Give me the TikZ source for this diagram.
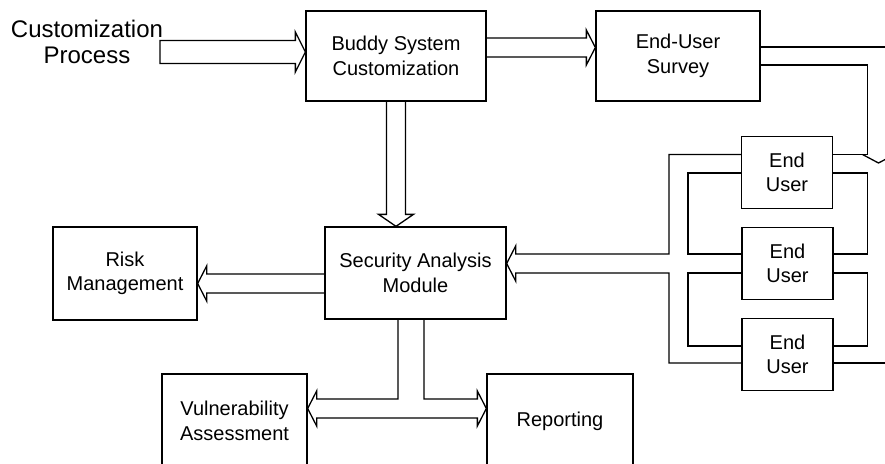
\documentclass[tikz,border=0pt]{standalone}
\usepackage{fontspec}
\setmainfont{Liberation Sans}
\usetikzlibrary{calc, positioning}

\newcommand{\diagfont}{\fontsize{20}{24.5}\selectfont}

\begin{document}
\begin{tikzpicture}[x=1pt, y=-1pt,
modbox/.style={rectangle, draw=black, line width=1.3pt,
  align=center, inner sep=0pt, font=\diagfont},
pipe/.style={line width=1.3pt, line join=miter}]

\useasboundingbox (0,0) rectangle (885,463);
\clip (0,0) rectangle (885,463);

\node[align=center, font=\fontsize{24}{26}\selectfont]
(process) at (87,42)
{Customization\\Process};

\node[modbox, minimum width=180pt, minimum height=90pt]
(buddy) at (396,56)
{Buddy System\\Customization};

\node[modbox, minimum width=164pt, minimum height=90pt]
(survey) at (678,56)
{End-User\\Survey};

\node[modbox, minimum width=181pt, minimum height=92pt]
(security) at (415.5,273)
{Security Analysis\\Module};

\node[modbox, minimum width=144pt, minimum height=93pt]
(risk) at (125,273.5)
{Risk\\Management};

\node[modbox, minimum width=145pt, minimum height=94pt]
(vuln) at (234.5,421)
{Vulnerability\\Assessment};

\node[modbox, minimum width=146pt, minimum height=94pt]
(report) at (560,421)
{Reporting};

\node[modbox, minimum width=91pt, minimum height=72pt]
(eu1) at (787,172.5)
{End\\User};

\node[modbox, minimum width=91pt, minimum height=72pt]
(eu2) at (787.5,263.5)
{End\\User};

\node[modbox, minimum width=91pt, minimum height=72pt]
(eu3) at (787.5,354.5)
{End\\User};

% columns of the pipes beside the end users
\coordinate (colA) at (669,0);
\coordinate (colB) at (688,0);
\coordinate (colC) at (867.5,0);

% arrow tips
\coordinate (cpin) at (160,52);
\coordinate (btip) at ($(buddy.west)+(0,-4)$);
\coordinate (stip) at ($(survey.west)+(0,-8.5)$);
\coordinate (mtip) at (buddy.south |- security.north);
\coordinate (rktip) at ($(risk.east)+(0,10)$);
\coordinate (satip) at ($(security.east)+(0,-9.5)$);
\coordinate (vtip) at ($(vuln.east)+(0,-12.5)$);
\coordinate (rptip) at ($(report.west)+(0,-12.5)$);

% customization process -> buddy system
\draw[pipe] ($(cpin)+(0,-11.5)$) -- ($(btip)+(-10,-11.5)$)
  -- ($(btip)+(-10,-20)$) -- (btip) -- ($(btip)+(-10,20)$)
  -- ($(btip)+(-10,11.5)$) -- ($(cpin)+(0,11.5)$) -- cycle;

% buddy system -> survey
\draw[pipe] ($(buddy.east |- stip)+(0,-9.5)$) -- ($(stip)+(-9,-9.5)$)
  -- ($(stip)+(-9,-17.5)$) -- (stip) -- ($(stip)+(-9,17.5)$)
  -- ($(stip)+(-9,9.5)$) -- ($(buddy.east |- stip)+(0,9.5)$);

% buddy system -> security module
\draw[pipe] ($(buddy.south)+(-9.5,0)$) -- ($(mtip)+(-9.5,-12)$)
  -- ($(mtip)+(-17.5,-12)$) -- (mtip) -- ($(mtip)+(17.5,-12)$)
  -- ($(mtip)+(9.5,-12)$) -- ($(buddy.south)+(9.5,0)$);

% security module -> risk
\draw[pipe] ($(security.west |- rktip)+(0,-9.5)$) -- ($(rktip)+(9,-9.5)$)
  -- ($(rktip)+(9,-17.5)$) -- (rktip) -- ($(rktip)+(9,17.5)$)
  -- ($(rktip)+(9,9.5)$) -- ($(security.west |- rktip)+(0,9.5)$);

% security module -> vulnerability / reporting
\draw[pipe] ($(security.south)+(-17.5,0)$) |- ($(vtip)+(9,-9.5)$)
  -- ($(vtip)+(9,-17.5)$) -- (vtip) -- ($(vtip)+(9,17.5)$)
  -- ($(vtip)+(9,9.5)$) -- ($(rptip)+(-9,9.5)$)
  -- ($(rptip)+(-9,17.5)$) -- (rptip) -- ($(rptip)+(-9,-17.5)$)
  -- ($(rptip)+(-9,-9.5)$) -| ($(security.south)+(8.5,0)$);

% end users -> security module
\draw[pipe] ($(eu1.west)+(0,-18)$) -| ($(colA |- eu2.west)+(0,-9.5)$)
  -- ($(satip)+(9,-9.5)$) -- ($(satip)+(9,-17.5)$) -- (satip)
  -- ($(satip)+(9,17.5)$) -- ($(satip)+(9,9.5)$)
  -- ($(colA |- eu2.west)+(0,9.5)$) |- ($(eu3.west)+(0,8.5)$);
\draw[pipe] ($(eu1.west)+(0,0.5)$) -| ($(colB |- eu2.west)+(0,-9.5)$)
  -- ($(eu2.west)+(0,-9.5)$);
\draw[pipe] ($(eu2.west)+(0,9.5)$) -| ($(colB |- eu3.west)+(0,-8.5)$)
  -- ($(eu3.west)+(0,-8.5)$);

% survey -> end users
\draw[pipe] ($(survey.east)+(0,-9)$) -- ($(survey.east)+(140,-9)$);
\draw[pipe] ($(survey.east)+(0,9)$) -| ($(colC |- eu1.east)+(0,-18)$)
  -- ($(eu1.east)+(0,-18)$);
\draw[pipe] ($(colC |- eu1.east)+(-5,-18)$) -- ++(16,8.5) -- ++(16,-8.5);
\draw[pipe] ($(eu1.east)+(0,0.5)$) -| ($(colC |- eu2.east)+(0,-9.5)$)
  -- ($(eu2.east)+(0,-9.5)$);
\draw[pipe] ($(eu2.east)+(0,9.5)$) -| ($(colC |- eu3.east)+(0,-8.5)$)
  -- ($(eu3.east)+(0,-8.5)$);
\draw[pipe] ($(eu3.east)+(0,8.5)$) -- ($(eu3.east)+(80,8.5)$);

\end{tikzpicture}
\end{document}
